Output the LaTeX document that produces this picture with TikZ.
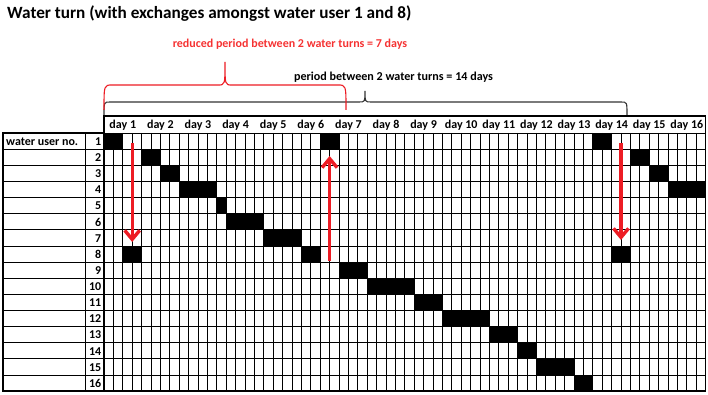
\documentclass[tikz,border=0pt]{standalone}
\usepackage{fontspec}
\setmainfont{Carlito}
\usetikzlibrary{arrows.meta}
\definecolor{redc}{RGB}{237,28,36}
\definecolor{redt}{RGB}{245,50,50}
\begin{document}
\begin{tikzpicture}[x=1pt,y=-1pt,
  gridline/.style={line width=0.7pt,black},
  border/.style={line width=1.2pt,black},
  cellfill/.style={fill=black},
  daylbl/.style={font=\bfseries\fontsize{12}{13}\selectfont,inner sep=0pt},
  userlbl/.style={font=\bfseries\fontsize{12}{13}\selectfont,inner sep=0pt,anchor=east},
  redarrow/.style={redc,line width=3.4pt,-{Straight Barb[length=9pt,width=15pt]}},
  bracered/.style={redc,line width=1.1pt},
  braceblack/.style={black!80,line width=1.1pt}]
\useasboundingbox (0,0) rectangle (708,395);
\def\XO{104}\def\SW{9.4}\def\RT{133}\def\RH{16.125}
% black cells: row/start/count
\foreach \r/\s/\n in {1/0/2,1/23/2,1/52/2,2/4/2,2/56/2,3/6/2,3/58/2,4/8/4,4/60/4,5/12/1,6/13/4,7/17/4,8/2/2,8/21/2,8/54/2,9/25/3,10/28/5,11/33/3,12/36/5,13/41/3,14/44/2,15/46/4,16/50/2}
  \fill[cellfill] ({\XO+\s*\SW},{\RT+(\r-1)*\RH}) rectangle ({\XO+(\s+\n)*\SW},{\RT+\r*\RH});
% horizontal lines
\foreach \i in {0,...,16}
  \draw[gridline] (3,{\RT+\i*\RH}) -- (705.6,{\RT+\i*\RH});
% vertical lines of grid
\foreach \j in {0,...,64}
  \draw[gridline] ({\XO+\j*\SW},\RT) -- ({\XO+\j*\SW},391);
% left table
\draw[border] (3,\RT) rectangle (\XO,391);
\draw[gridline] (85,\RT) -- (85,391);
% header box and outer border
\draw[border] (\XO,116) rectangle (705.6,391);
\draw[gridline] (\XO,\RT) -- (705.6,\RT);
% day labels
\foreach \d in {1,...,16}
  \node[daylbl] (day\d) at ({\XO+(\d-0.5)*4*\SW},124.8) {day \d};
% user labels
\node[daylbl,anchor=west] (wun) at (6,141.5) {water user no.};
\foreach \u in {1,...,16}
  \node[userlbl] (u\u) at (101.5,{\RT+(\u-0.5)*\RH+0.5}) {\u};
% arrows
\coordinate (a1s) at (132.2,143);
\coordinate (a1e) at (132.2,242);
\coordinate (a2s) at (329.6,261);
\coordinate (a2e) at (329.6,156);
\coordinate (a3s) at (621,143);
\coordinate (a3e) at (621,240);
\draw[redarrow] (a1s) -- (a1e);
\draw[redarrow] (a2s) -- (a2e);
\draw[redarrow] (a3s) -- (a3e);
% braces
\draw[braceblack] (104,115) .. controls (104,102) and (104,102) .. (110,102) -- (359,102)
  .. controls (365,102) and (365,102) .. (365,91) .. controls (365,102) and (365,102) .. (371,102)
  -- (621,102) .. controls (627,102) and (627,102) .. (627,115);
\draw[bracered] (104,110) .. controls (104,85) and (104,85) .. (112,85) -- (218,85)
  .. controls (225,85) and (225,85) .. (225,62) .. controls (225,85) and (225,85) .. (232,85)
  -- (338,85) .. controls (346,85) and (346,85) .. (346,110);
% texts
\node[font=\bfseries\fontsize{17.2}{19}\selectfont,anchor=west,inner sep=0pt] (title) at (7,13.5) {Water turn (with exchanges amongst water user 1 and 8)};
\node[font=\bfseries\fontsize{12}{13}\selectfont,text=redt,inner sep=0pt] (redtxt) at (290,44.5) {reduced period between 2 water turns = 7 days};
\node[font=\bfseries\fontsize{12.1}{13}\selectfont,inner sep=0pt] (blktxt) at (393.5,77) {period between 2 water turns = 14 days};
\end{tikzpicture}
\end{document}
